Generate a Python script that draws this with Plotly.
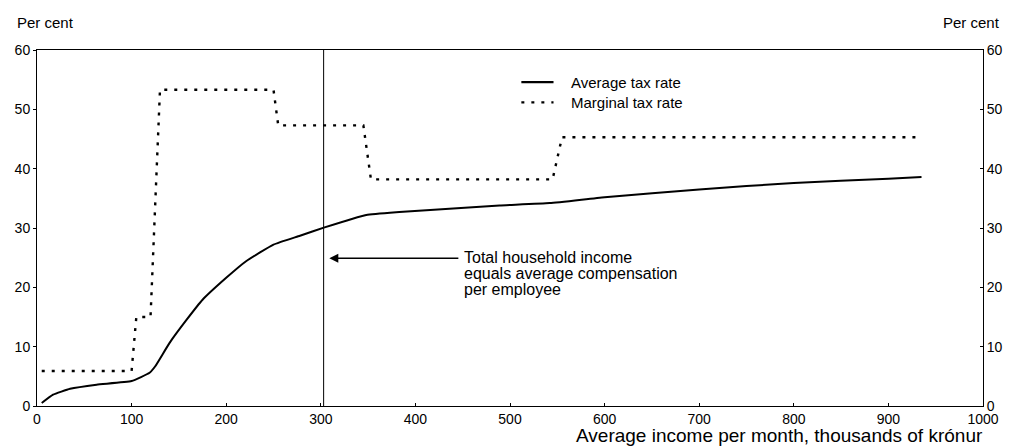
import plotly.graph_objects as go

# Average tax rate (solid), x = thousands of kronur per month
avg_income = [5, 17, 35, 63, 100, 119, 125, 140, 158, 175, 200, 221, 250, 278, 304,
              348, 383, 440, 489, 542, 600, 700, 800, 900, 935]
avg_rate = [0.5, 1.9, 2.9, 3.6, 4.2, 5.6, 6.7, 10.6, 14.5, 17.9, 21.6, 24.4, 27.2, 28.7, 30.1,
            32.2, 32.7, 33.3, 33.8, 34.2, 35.2, 36.5, 37.6, 38.3, 38.6]

# Marginal tax rate (dotted)
marg_income = [5, 100, 105, 120, 130, 250, 255, 345, 353, 545, 555, 935]
marg_rate = [5.9, 5.9, 15.0, 15.0, 53.3, 53.3, 47.3, 47.3, 38.2, 38.2, 45.3, 45.3]

ref_income = 303
note_lines = ["Total household income", "equals average compensation", "per employee"]
y_ticks = [0, 10, 20, 30, 40, 50, 60]
x_ticks = [0, 100, 200, 300, 400, 500, 600, 700, 800, 900, 1000]

font_name = "Liberation Sans, Arial, sans-serif"
dot_style = "3px,7px"

fig = go.Figure()
fig.add_trace(go.Scatter(x=avg_income, y=avg_rate, mode="lines", name="Average tax rate",
                         showlegend=False,
                         line=dict(color="black", width=2, shape="spline", smoothing=0.4)))
fig.add_trace(go.Scatter(x=marg_income, y=marg_rate, mode="lines", name="Marginal tax rate",
                         showlegend=False,
                         line=dict(color="black", width=2.4, dash=dot_style)))
# invisible trace so the right axis is drawn
fig.add_trace(go.Scatter(x=[0], y=[0], yaxis="y2", mode="markers", showlegend=False,
                         marker=dict(opacity=0), hoverinfo="skip"))

fig.add_shape(type="line", x0=ref_income, x1=ref_income, y0=0, y1=60, xref="x", yref="y",
              line=dict(color="black", width=1))

# hand-made legend (sample line + label), paper coords
legend_rows = [("Average tax rate", "solid", 0.910), ("Marginal tax rate", dot_style, 0.853)]
for label, dash, ypos in legend_rows:
    fig.add_shape(type="line", xref="paper", yref="paper", x0=0.512, x1=0.546,
                  y0=ypos, y1=ypos, line=dict(color="black", width=2.2, dash=dash))
    fig.add_annotation(x=0.562, y=ypos, xref="paper", yref="paper", xanchor="left",
                       yanchor="middle", text=label, showarrow=False,
                       font=dict(size=15, color="black"))

# arrow pointing at the reference line
fig.add_annotation(x=309, y=24.9, ax=447, ay=24.9, xref="x", yref="y", axref="x", ayref="y",
                   text="", showarrow=True, arrowhead=2, arrowsize=1.2, arrowwidth=1.5,
                   arrowcolor="black")
for i, line in enumerate(note_lines):
    fig.add_annotation(x=449, y=24.9, xref="x", yref="y", xanchor="left", yanchor="middle",
                       yshift=1 - 16 * i, showarrow=False, text=line,
                       font=dict(size=16, color="black"))

fig.add_annotation(x=0, y=1, xref="paper", yref="paper", xanchor="left", yanchor="middle",
                   xshift=-22, yshift=28, text="Per cent", showarrow=False,
                   font=dict(size=15, color="black"))
fig.add_annotation(x=1, y=1, xref="paper", yref="paper", xanchor="right", yanchor="middle",
                   xshift=19, yshift=28, text="Per cent", showarrow=False,
                   font=dict(size=15, color="black"))
fig.add_annotation(x=1, y=0, xref="paper", yref="paper", xanchor="right", yanchor="middle",
                   yshift=-29, xshift=2, text="Average income per month, thousands of krónur",
                   showarrow=False, font=dict(size=19, color="black"))

axis_common = dict(showline=True, linecolor="black", linewidth=1, showgrid=False,
                   zeroline=False, ticklen=3, tickcolor="black", automargin=False,
                   tickfont=dict(size=14, color="black"))

fig.update_layout(
    width=1011, height=446,
    margin=dict(l=37, r=28, t=50, b=40),
    plot_bgcolor="white", paper_bgcolor="white",
    font=dict(family=font_name, color="black"),
    xaxis=dict(range=[0, 1000], tickvals=x_ticks, ticks="inside", mirror=True, **axis_common),
    yaxis=dict(range=[0, 60], tickvals=y_ticks, ticks="outside", **axis_common),
    yaxis2=dict(range=[0, 60], tickvals=y_ticks, ticks="inside", overlaying="y", side="right",
                **axis_common),
    showlegend=False,
)

# drop the browser's default body margin so the figure sits at the page corner
fig.write_html("out.html", config={"displayModeBar": False},
               post_script="document.body.style.margin='0px';")
